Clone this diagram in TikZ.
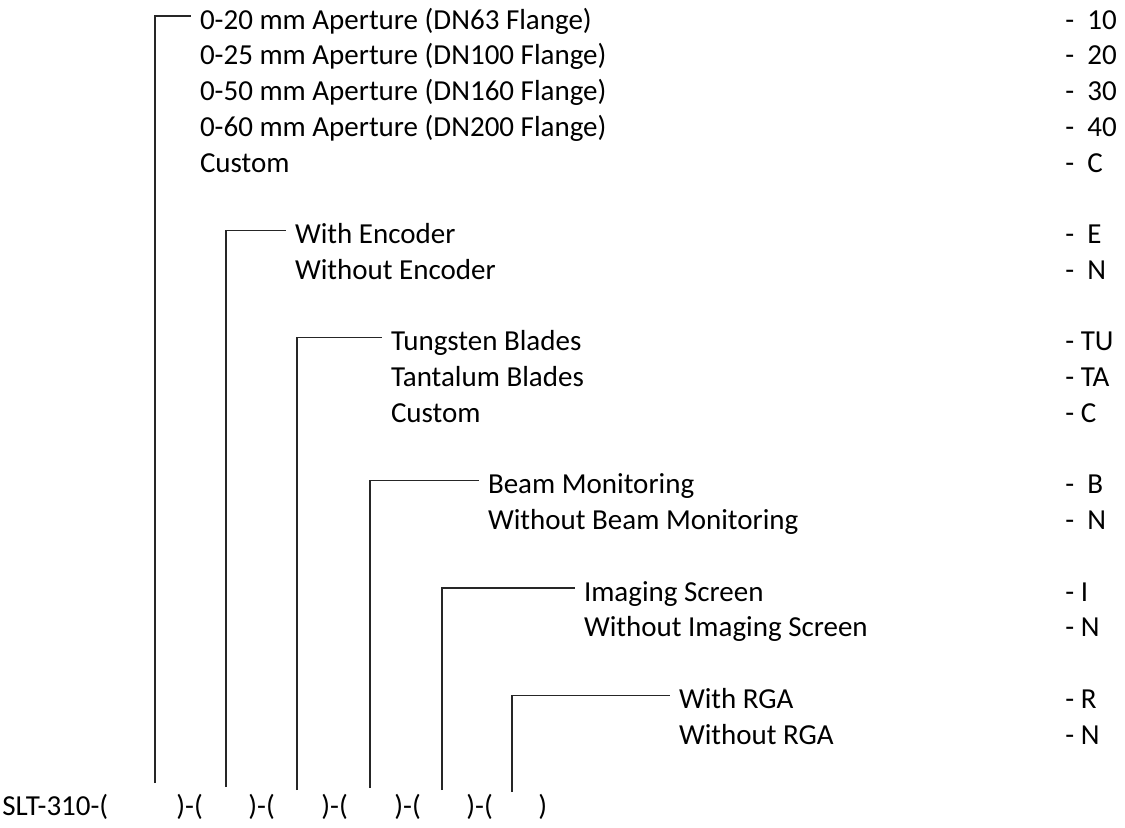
\documentclass[tikz,border=0pt]{standalone}
\usepackage{fontspec}
\setmainfont{Carlito}
\usepackage{tikz}
\tikzset{
  opt/.style={anchor=west, inner sep=0pt, outer xsep=4.5pt, text height=14pt, text depth=1pt},
  ocode/.style={anchor=west, inner sep=0pt, text height=14pt, text depth=1pt},
  part/.style={anchor=base west, inner sep=0pt},
  link/.style={draw=black!85, line width=0.6pt}}
\newcommand{\rowy}[1]{16+35.75*#1}
\newcommand{\orow}[4]{\node[opt] (#1) at (#2,{\rowy{#3}}) {#4};}
\newcommand{\ocode}[3]{\node[ocode] (#1) at (1065,{\rowy{#2}}) {#3};}
\newcommand{\obrack}[4]{%
  \coordinate (#1) at (#2,#3);
  \draw[link] (#1) |- (#4.west);}

\begin{document}
\begin{tikzpicture}[x=0.5pt, y=-0.5pt, font=\fontsize{14.5}{17}\selectfont]
  \useasboundingbox (0,0) rectangle (1125,827);
  % aperture
  \orow{ap1}{191}{0}{0-20 mm Aperture (DN63 Flange)}
  \orow{ap2}{191}{1}{0-25 mm Aperture (DN100 Flange)}
  \orow{ap3}{191}{2}{0-50 mm Aperture (DN160 Flange)}
  \orow{ap4}{191}{3}{0-60 mm Aperture (DN200 Flange)}
  \orow{ap5}{191}{4}{Custom}
  \ocode{ap1c}{0}{-~~10} \ocode{ap2c}{1}{-~~20} \ocode{ap3c}{2}{-~~30}
  \ocode{ap4c}{3}{-~~40} \ocode{ap5c}{4}{-~~C}
  % encoder
  \orow{enc1}{286}{6}{With Encoder}
  \orow{enc2}{286}{7}{Without Encoder}
  \ocode{enc1c}{6}{-~~E} \ocode{enc2c}{7}{-~~N}
  % blades
  \orow{bl1}{382}{9}{Tungsten Blades}
  \orow{bl2}{382}{10}{Tantalum Blades}
  \orow{bl3}{382}{11}{Custom}
  \ocode{bl1c}{9}{-~TU} \ocode{bl2c}{10}{-~TA} \ocode{bl3c}{11}{-~C}
  % beam monitoring
  \orow{bm1}{479}{13}{Beam Monitoring}
  \orow{bm2}{479}{14}{Without Beam Monitoring}
  \ocode{bm1c}{13}{-~~B} \ocode{bm2c}{14}{-~~N}
  % imaging screen
  \orow{is1}{575}{16}{Imaging Screen}
  \orow{is2}{575}{17}{Without Imaging Screen}
  \ocode{is1c}{16}{-~I} \ocode{is2c}{17}{-~N}
  % rga
  \orow{rga1}{670}{19}{With RGA}
  \orow{rga2}{670}{20}{Without RGA}
  \ocode{rga1c}{19}{-~R} \ocode{rga2c}{20}{-~N}
  % part number
  \node[part] (slt) at (2,815.5) {SLT-310-(};
  \node[part] (p1) at (176,815.5) {)-(};
  \node[part] (p2) at (248,815.5) {)-(};
  \node[part] (p3) at (321,815.5) {)-(};
  \node[part] (p4) at (394,815.5) {)-(};
  \node[part] (p5) at (466,815.5) {)-(};
  \node[part] (p6) at (538,815.5) {)};
  % brackets
  \obrack{s1}{155}{783}{ap1}
  \obrack{s2}{226}{787}{enc1}
  \obrack{s3}{297}{790}{bl1}
  \obrack{s4}{370}{788}{bm1}
  \obrack{s5}{442}{790}{is1}
  \obrack{s6}{512}{792}{rga1}
\end{tikzpicture}
\end{document}
